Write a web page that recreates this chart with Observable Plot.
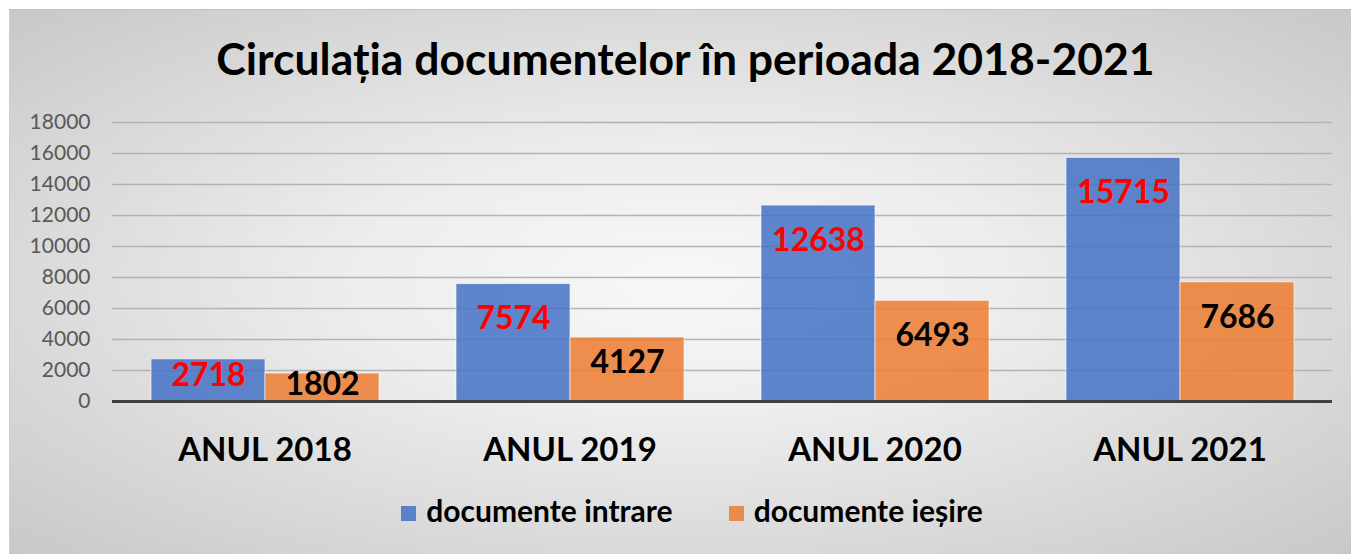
<!DOCTYPE html>
<html>
<head>
<meta charset="utf-8">
<script src="https://cdn.jsdelivr.net/npm/d3@7"></script>
<script src="https://cdn.jsdelivr.net/npm/@observablehq/plot@0.6"></script>
<style>
  html, body { margin: 0; padding: 0; background: #ffffff; width: 1351px; height: 554px; overflow: hidden; }
  #box {
    position: absolute; left: 9px; top: 9px; width: 1342px; height: 545px;
    background: radial-gradient(ellipse farthest-corner at 50% 50%, #f8f8f8 0%, #ededed 35%, #c8c8c8 100%);
    border-top: 1px solid #c2c2c2; border-left: 1px solid #cfcfcf; box-sizing: border-box;
  }
  #title {
    position: absolute; left: 0; top: 31px; width: 1371px; text-align: center;
    font-family: Lato, sans-serif; font-weight: bold; font-size: 44.5px; line-height: 1.2; color: #000;
    white-space: nowrap;
  }
  #chart { position: absolute; left: 0; top: 100px; }
  #legend {
    position: absolute; top: 492px; left: 0; width: 1384px; display: flex; justify-content: center; gap: 56px;
    font-family: Lato, sans-serif; font-weight: bold; font-size: 30px; color: #000;
  }
  .item { display: flex; align-items: center; gap: 10px; }
  .sw { width: 15px; height: 15px; display: inline-block; margin-top: 6px; }
</style>
</head>
<body>
<div id="box"></div>
<div id="title"></div>
<div id="chart"></div>
<div id="legend"></div>
<script>
const title = "Circulația documentelor în perioada 2018-2021";
const years = ["2018", "2019", "2020", "2021"];
const yearLabelPrefix = "ANUL ";
const seriesNames = ["documente intrare", "documente ieșire"];
const intrare = [2718, 7574, 12638, 15715];
const iesire = [1802, 4127, 6493, 7686];
const yTicks = [0, 2000, 4000, 6000, 8000, 10000, 12000, 14000, 16000, 18000];
const colors = ["#4472C4", "#ED7D31"];
const labelColors = ["#FF0000", "#000000"];

const rows = [];
years.forEach((yr, i) => {
  rows.push({year: yr, series: seriesNames[0], value: intrare[i]});
  rows.push({year: yr, series: seriesNames[1], value: iesire[i]});
});

document.getElementById("title").textContent = title;

const W = 1351, H = 380, mt = 22, mb = 79, ml = 110, mr = 18;
const yMax = 18000;
const ppu = (H - mt - mb) / yMax; // pixels per unit
const labelOffset = v => Math.min(35 / ppu, 0.4 * v);

const plot = Plot.plot({
  width: W, height: H,
  marginTop: mt, marginBottom: mb, marginLeft: ml, marginRight: mr,
  style: {background: "transparent", fontFamily: "Lato, sans-serif"},
  fx: {domain: years, paddingInner: 0, paddingOuter: 0, label: null},
  x: {domain: seriesNames, paddingInner: 0, paddingOuter: 0.33, axis: null},
  y: {domain: [0, yMax], label: null},
  color: {domain: seriesNames, range: colors},
  marks: [
    Plot.ruleY(yTicks.filter(t => t > 0), {stroke: "#b3b3b3", strokeWidth: 1.5}),
    Plot.barY(rows, {fx: "year", x: "series", y: "value", fill: "series", fillOpacity: 0.85,
      stroke: "#ffffff", strokeOpacity: 0.6, strokeWidth: 1}),
    Plot.ruleY([0], {stroke: "#404040", strokeWidth: 3}),
    Plot.text(rows, {fx: "year", x: "series", y: d => d.value - labelOffset(d.value),
      text: d => String(d.value),
      fill: d => labelColors[seriesNames.indexOf(d.series)],
      fontSize: 32, fontWeight: "bold"}),
    Plot.axisY({ticks: yTicks, tickFormat: d => String(d), tickSize: 0, tickPadding: 22,
      fontSize: 21, fill: "#595959", label: null}),
    Plot.axisFx({anchor: "bottom", tickSize: 0, tickPadding: 36, fontSize: 33, fontWeight: "bold", fill: "#000",
      tickFormat: d => yearLabelPrefix + d, label: null})
  ]
});
document.getElementById("chart").appendChild(plot);

const legend = document.getElementById("legend");
seriesNames.forEach((s, i) => {
  const it = document.createElement("div");
  it.className = "item";
  const sw = document.createElement("span");
  sw.className = "sw";
  sw.style.background = colors[i];
  sw.style.opacity = 0.85;
  const t = document.createElement("span");
  t.textContent = s;
  it.appendChild(sw); it.appendChild(t);
  legend.appendChild(it);
});
</script>
</body>
</html>
